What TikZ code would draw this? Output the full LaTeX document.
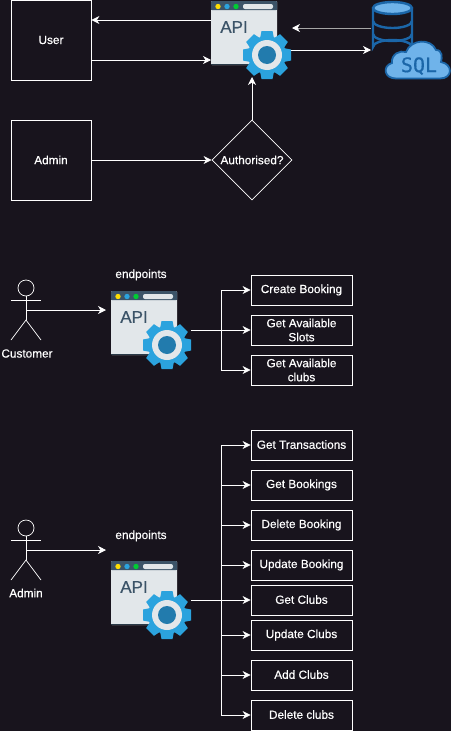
\documentclass[tikz,border=0pt]{standalone}
\usepackage{fontspec}
\setmainfont{Liberation Sans}
\newfontfamily\lblfont[FakeBold=0.45]{Liberation Sans}
\newfontfamily\sqlfont[FakeBold=0.6]{DejaVu Sans Mono}
\usetikzlibrary{shapes.geometric,arrows.meta}
\definecolor{bgc}{HTML}{18141D}
\definecolor{wbody}{HTML}{E2E7EA}
\definecolor{wbar}{HTML}{3C5468}
\definecolor{gearb}{HTML}{2BA3DE}
\definecolor{geard}{HTML}{227BAD}
\definecolor{dbb}{HTML}{1B66A8}
\definecolor{dbl}{HTML}{6FB3EA}
\tikzset{
  x=1pt,y=-1pt,
  lblf/.style={font=\lblfont\fontsize{11.8}{14}\selectfont},
  box/.style={draw=white,line width=0.8pt,minimum width=80pt,minimum height=80pt,inner sep=0pt,text=white,lblf},
  ep/.style={draw=white,line width=0.8pt,minimum width=101pt,minimum height=30pt,inner sep=0pt,text=white,align=center,lblf},
  lab/.style={text=white,inner sep=0pt,lblf},
  conn/.style={draw=white,line width=0.8pt,-{Stealth[length=8pt,width=8pt,inset=2.5pt,color=white]}},
  plain/.style={draw=white,line width=0.8pt},
  fig/.style={draw=white,line width=0.7pt}
}
\newcommand{\apiicon}[3]{%
  \begin{scope}[shift={(#1,#2)}]
    \fill[wbody,rounded corners=1pt] (0,0) rectangle (66,64);
    \fill[wbar!70!black] (0,63) rectangle (66,64);
    \fill[wbar,rounded corners=1pt] (0,0) rectangle (66,9);
    \fill[wbar] (0,5) rectangle (66,9);
    \fill[yellow!80!orange] (7,5.5) circle (2.7);
    \fill[gearb] (16,5.5) circle (2.7);
    \fill[green!60!teal] (25,5.5) circle (2.7);
    \fill[wbody,rounded corners=2pt] (32,3) rectangle (62,8);
    \node[inner sep=0pt,text=wbar,font=\lblfont\fontsize{17}{17}\selectfont] at (23,26) {API};
    \begin{scope}[shift={(56,54)}]
      \foreach \a in {0,45,...,315}{
        \fill[gearb,rotate=\a] (-5.5,-24) -- (5.5,-24) -- (7.5,-14) -- (-7.5,-14) -- cycle;
      }
      \fill[gearb] (0,0) circle (19);
      \fill[wbody] (0,0) circle (15);
      \fill[geard] (0,0) circle (9);
    \end{scope}
    \coordinate (#3) at (33,32);
  \end{scope}}
\newcommand{\actor}[3]{%
  \begin{scope}[shift={(#1,#2)}]
    \draw[fig] (0,-8) circle (8);
    \draw[fig] (0,0) -- (0,24);
    \draw[fig] (-15,4) -- (15,4);
    \draw[fig] (-15,44) -- (0,24) -- (15,44);
    \coordinate (#3) at (0,14);
  \end{scope}}
\begin{document}
\begin{tikzpicture}
\useasboundingbox (0,0) rectangle (451,731);
\fill[bgc] (0,0) rectangle (451,731);

% top section
\node[box] (user) at (51,40) {User};
\node[box] (admintop) at (51,160) {Admin};
\node[draw=white,line width=0.8pt,diamond,aspect=1,minimum width=80pt,minimum height=80pt,inner sep=0pt,text=white,lblf] (auth) at (252,160) {Authorised?};
\apiicon{211}{1}{apitop}
\coordinate (apiL1) at (211,20);
\coordinate (apiL2) at (211,60);
\coordinate (apiB) at (252,77);
\coordinate (apiR1) at (292,28);
\coordinate (apiR2) at (291,50);
\coordinate (dbL1) at (371,28);
\coordinate (dbL2) at (371,50);

% database
\begin{scope}
  \draw[dbb,line width=2.4pt,fill=bgc] (373,9) -- (373,47) arc[start angle=180,end angle=360,x radius=19.5,y radius=7] -- (412,9);
  \fill[dbl,draw=dbb,line width=2.4pt] (392.5,8) ellipse (19.5 and 6);
  \draw[dbb,line width=2.4pt] (373,21) arc[start angle=180,end angle=360,x radius=19.5,y radius=-7];
  \draw[dbb,line width=2.4pt] (373,34) arc[start angle=180,end angle=360,x radius=19.5,y radius=-7];
  \draw[dbb,line width=1.8pt,fill=dbl] (396,78.5) .. controls (384,78.5) and (382,66) .. (392,63)
    .. controls (391,54) and (400,50) .. (406,52)
    .. controls (411,39) and (431,38) .. (436,50)
    .. controls (443,50) and (442,58) .. (441,62)
    .. controls (453,64) and (453,78.5) .. (440,78.5) -- cycle;
  \node[inner sep=0pt,text=dbb,font=\sqlfont\fontsize{20}{20}\selectfont] (sql) at (419,66) {SQL};
\end{scope}

\draw[conn] (apiL1) -- (user.east |- apiL1);
\draw[conn] (user.east |- apiL2) -- (apiL2);
\draw[conn] (admintop) -- (auth);
\draw[conn] (auth) -- (apiB);
\draw[conn,draw=white!65!black] (dbL1) -- (apiR1);
\draw[conn] (apiR2) -- (dbL2);

% customer section
\actor{26}{296}{cust}
\node[lab] (custlab) at (27,353.5) {Customer};
\node[lab,anchor=base] (ep1) at (141,278) {endpoints};
\apiicon{111}{291}{api1}
\coordinate (a1T) at (106,310);
\coordinate (a1R) at (191,330);
\coordinate (j1) at (221,330);
\node[ep] (cb) at (301.5,290) {\raisebox{1pt}{Create Booking}};
\node[ep] (gs) at (301.5,330) {Get Available\\Slots};
\node[ep] (gc) at (301.5,370) {Get Available\\clubs};
\draw[conn] (cust) -- (a1T);
\draw[plain] (a1R) -- (j1);
\draw[conn] (j1) |- (cb.west);
\draw[conn] (j1) -- (gs.west);
\draw[conn] (j1) |- (gc.west);

% admin section
\actor{26}{536}{adm}
\node[lab] (admlab) at (26,593) {Admin};
\node[lab,anchor=base] (ep2) at (141,539) {endpoints};
\apiicon{111}{561}{api2}
\coordinate (a2T) at (106,550);
\coordinate (a2R) at (191,600);
\coordinate (j2) at (221,600);
\node[ep] (e1) at (301.5,445) {\raisebox{1pt}{Get Transactions}};
\node[ep] (e2) at (301.5,485) {\raisebox{1pt}{Get Bookings}};
\node[ep] (e3) at (301.5,525) {\raisebox{1pt}{Delete Booking}};
\node[ep] (e4) at (301.5,565) {Update Booking};
\node[ep] (e5) at (301.5,600) {\raisebox{1pt}{Get Clubs}};
\node[ep] (e6) at (301.5,635) {Update Clubs};
\node[ep] (e7) at (301.5,675) {\raisebox{1pt}{Add Clubs}};
\node[ep] (e8) at (301.5,715) {\raisebox{1pt}{Delete clubs}};
\draw[conn] (adm) -- (a2T);
\draw[plain] (a2R) -- (j2);
\foreach \n in {e1,e2,e3,e4,e6,e7,e8}{\draw[conn] (j2) |- (\n.west);}
\draw[conn] (j2) -- (e5.west);
\end{tikzpicture}
\end{document}
